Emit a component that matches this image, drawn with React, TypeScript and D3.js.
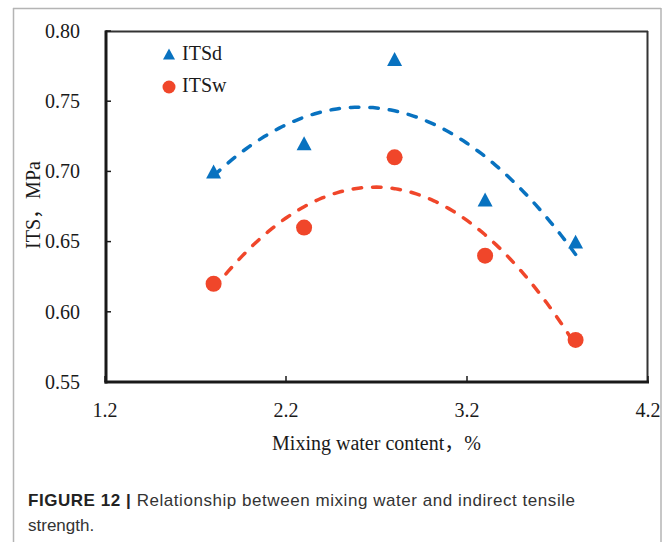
import React from "react";
import * as d3 from "d3";

const xValues = [1.8, 2.3, 2.8, 3.3, 3.8];
const itsd = [0.70, 0.72, 0.78, 0.68, 0.65];
const itsw = [0.62, 0.66, 0.71, 0.64, 0.58];
const xTicks = [1.2, 2.2, 3.2, 4.2];
const yTicks = [0.55, 0.6, 0.65, 0.7, 0.75, 0.8];

const BLUE = "#0872C0";
const RED = "#F0462A";
const SERIF = "'Liberation Serif', 'Noto Sans CJK SC', 'Times New Roman', serif";
const SANS = "'Liberation Sans', Arial, sans-serif";

// least-squares quadratic fit (polynomial trendline of order 2)
function quadFit(xs: number[], ys: number[]) {
  const n = xs.length;
  const s = [0, 0, 0, 0, 0];
  const t = [0, 0, 0];
  for (let i = 0; i < n; i++) {
    for (let k = 0; k < 5; k++) s[k] += Math.pow(xs[i], k);
    for (let k = 0; k < 3; k++) t[k] += Math.pow(xs[i], k) * ys[i];
  }
  const A = [
    [s[0], s[1], s[2], t[0]],
    [s[1], s[2], s[3], t[1]],
    [s[2], s[3], s[4], t[2]],
  ];
  for (let i = 0; i < 3; i++) {
    let p = i;
    for (let r = i + 1; r < 3; r++) if (Math.abs(A[r][i]) > Math.abs(A[p][i])) p = r;
    [A[i], A[p]] = [A[p], A[i]];
    for (let r = 0; r < 3; r++) {
      if (r === i) continue;
      const f = A[r][i] / A[i][i];
      for (let c = i; c < 4; c++) A[r][c] -= f * A[i][c];
    }
  }
  const c = [A[0][3] / A[0][0], A[1][3] / A[1][1], A[2][3] / A[2][2]];
  return (x: number) => c[0] + c[1] * x + c[2] * x * x;
}

export default function App() {
  const x = d3.scaleLinear().domain([1.2, 4.2]).range([105, 648]);
  const y = d3.scaleLinear().domain([0.55, 0.8]).range([382, 31]);

  const fitD = quadFit(xValues, itsd);
  const fitW = quadFit(xValues, itsw);
  const x0 = xValues[0];
  const x1 = xValues[xValues.length - 1];
  const xs = d3.range(0, 101).map((i) => x0 + (i / 100) * (x1 - x0));
  const line = (f: (v: number) => number) =>
    d3.line<number>().x((v) => x(v)).y((v) => y(f(v)))(xs) || "";

  const triPath = (w: number) => {
    const h = w * 0.93;
    return `M0,${-h / 2}L${w / 2},${h / 2}L${-w / 2},${h / 2}Z`;
  };

  return (
    <svg width={670} height={542} style={{ position: "absolute", left: 0, top: 0, background: "#fff" }}>
      {/* outer frame */}
      <g stroke="#b4b4b4" strokeWidth={1.5} fill="none">
        <line x1={13} y1={8.5} x2={661} y2={8.5} />
        <line x1={13.5} y1={8} x2={13.5} y2={542} />
        <line x1={661} y1={8} x2={661} y2={542} />
      </g>

      {/* plot frame */}
      <line x1={105} y1={31.5} x2={648} y2={31.5} stroke="#333" strokeWidth={2} />
      <line x1={647.5} y1={31} x2={647.5} y2={382} stroke="#333" strokeWidth={2} />
      <line x1={106} y1={30.5} x2={106} y2={383.5} stroke="#1a1a1a" strokeWidth={3} />
      <line x1={104.5} y1={382} x2={649} y2={382} stroke="#1a1a1a" strokeWidth={3} />

      {/* ticks */}
      {yTicks.map((t) => (
        <line key={"yt" + t} x1={106} x2={111} y1={y(t)} y2={y(t)} stroke="#1a1a1a" strokeWidth={1.5} />
      ))}
      {xTicks.map((t) => (
        <line key={"xt" + t} x1={x(t)} x2={x(t)} y1={382} y2={376} stroke="#1a1a1a" strokeWidth={1.5} />
      ))}

      {/* tick labels */}
      <g fontFamily={SERIF} fontSize={20} fill="#1a1a1a">
        {yTicks.map((t) => (
          <text key={"yl" + t} x={80} y={y(t)} dy="0.34em" textAnchor="end">
            {d3.format(".2f")(t)}
          </text>
        ))}
        {xTicks.map((t) => (
          <text key={"xl" + t} x={x(t)} y={417} textAnchor="middle">
            {d3.format(".1f")(t)}
          </text>
        ))}
        <text x={376.5} y={450} textAnchor="middle" lang="zh-CN">Mixing water content，%</text>
        <text transform="translate(40,205) rotate(-90)" textAnchor="middle" lang="zh-CN">ITS，MPa</text>
      </g>

      {/* trend lines */}
      <path d={line(fitD)} fill="none" stroke={BLUE} strokeWidth={3.5} strokeDasharray="8.5 11" strokeLinecap="round" />
      <path d={line(fitW)} fill="none" stroke={RED} strokeWidth={3.5} strokeDasharray="8.5 11" strokeLinecap="round" />

      {/* markers */}
      {xValues.map((v, i) => (
        <path key={"d" + i} d={triPath(15)} transform={`translate(${x(v)},${y(itsd[i])})`} fill={BLUE} />
      ))}
      {xValues.map((v, i) => (
        <circle key={"w" + i} cx={x(v)} cy={y(itsw[i])} r={8} fill={RED} />
      ))}

      {/* legend */}
      <path d={triPath(12)} transform="translate(169,54)" fill={BLUE} />
      <circle cx={169} cy={87} r={6.5} fill={RED} />
      <g fontFamily={SERIF} fontSize={20} fill="#1a1a1a">
        <text x={182} y={60}>ITSd</text>
        <text x={182} y={92}>ITSw</text>
      </g>

      {/* caption */}
      <text x={28} y={506} fontFamily={SANS} fontSize={17} fill="#222" textLength={547} lengthAdjust="spacing">
        <tspan fontWeight="bold">FIGURE 12 | </tspan>
        <tspan fill="#333">Relationship between mixing water and indirect tensile</tspan>
      </text>
      <text x={28} y={531} fontFamily={SANS} fontSize={17} fill="#333">strength.</text>
    </svg>
  );
}
